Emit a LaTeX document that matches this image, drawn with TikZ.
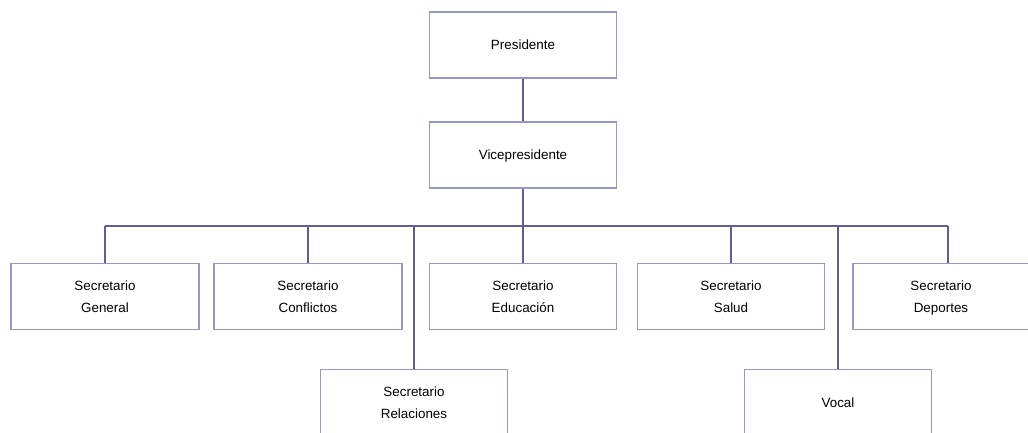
\documentclass[tikz,border=0pt]{standalone}
\usepackage{fontspec}
\setmainfont{Liberation Sans}
\definecolor{boxline}{RGB}{150,150,200}
\definecolor{linkline}{RGB}{95,95,150}
\tikzstyle{office} = [draw = boxline, line width = 1.3pt, minimum width = 187pt,
  minimum height = 66pt, inner sep = 0pt, align = center, text depth = 0pt,
  font = \fontsize{13.4}{22}\selectfont]
\tikzstyle{link} = [draw = linkline, line width = 2.4pt]

\begin{document}
\begin{tikzpicture}[x = 1pt, y = -1pt]
      \useasboundingbox (0, 0) rectangle (1028, 432);
      \clip (0, 0) rectangle (1028, 432);

      % Top
      \node[office] (pres) at (523, 45) {Presidente};
      \node[office] (vice) at (523, 155) {Vicepresidente};
      % Secretarios
      \node[office, minimum width = 188pt] (general) at (105, 296.5) {Secretario\\General};
      \node[office, minimum width = 188pt] (conflictos) at (308, 296.5) {Secretario\\Conflictos};
      \node[office] (educacion) at (523, 296.5) {Secretario\\Educación};
      \node[office] (salud) at (731, 296.5) {Secretario\\Salud};
      \node[office, minimum width = 176pt] (deportes) at (941, 296.5) {Secretario\\Deportes};
      \node[office] (relaciones) at (414, 402.5) {Secretario\\Relaciones};
      \node[office] (vocal) at (838, 402.5) {Vocal};

      % Links
      \coordinate (bus) at (523, 226);
      \coordinate (dep) at ([xshift = 7pt]deportes.north);
      \draw[link] (pres) -- (vice);
      \draw[link] (vice) -- (bus);
      \draw[link] (general.north |- bus) -- (dep |- bus);
      \draw[link] (general.north |- bus) -- (general);
      \draw[link] (conflictos.north |- bus) -- (conflictos);
      \draw[link] (bus) -- (educacion);
      \draw[link] (salud.north |- bus) -- (salud);
      \draw[link] (dep |- bus) -- (dep);
      \draw[link] (relaciones.north |- bus) -- (relaciones);
      \draw[link] (vocal.north |- bus) -- (vocal);
    \end{tikzpicture}
\end{document}
